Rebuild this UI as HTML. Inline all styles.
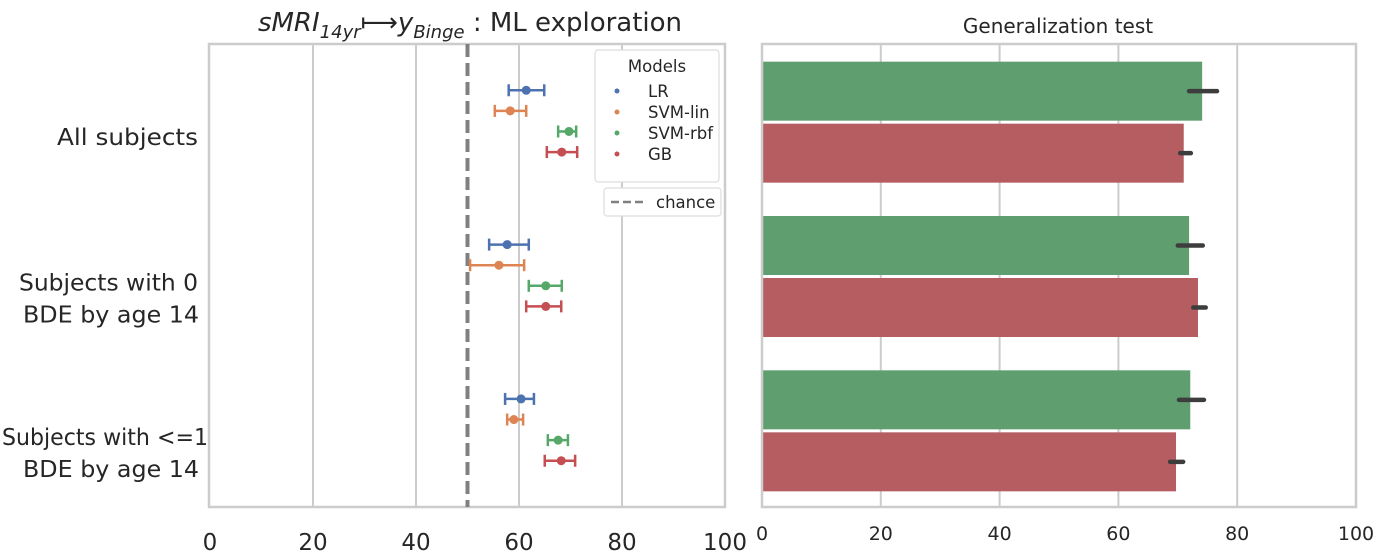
<!DOCTYPE html>
<html><head><meta charset="utf-8"><style>
body{margin:0;background:#fff;}
svg{display:block;font-family:"DejaVu Sans","Liberation Sans",sans-serif;}
</style></head><body>
<svg id="chart" width="1379" height="553" viewBox="0 0 1379 553">
<g id="left"></g>
<g id="right"></g>
</svg>
<script>
const groups = ["All subjects", "Subjects with 0|BDE by age 14", "Subjects with <=1|BDE by age 14"];
const models = ["LR", "SVM-lin", "SVM-rbf", "GB"];
const modelColors = ["#4c72b0", "#dd8452", "#55a868", "#c44e52"];
const mlMean = [[61.4, 58.3, 69.7, 68.3], [57.7, 56.1, 65.2, 65.2], [60.4, 59.0, 67.6, 68.2]];
const mlLow = [[58.0, 55.3, 67.6, 65.4], [54.2, 50.5, 61.9, 61.4], [57.3, 57.7, 65.6, 65.0]];
const mlHigh = [[64.9, 61.4, 71.1, 71.3], [61.9, 61.0, 68.3, 68.2], [62.9, 60.8, 69.5, 70.9]];
const chance = 50;
const genModels = ["SVM-rbf", "GB"];
const genMean = [[74.1, 71.0], [71.9, 73.4], [72.1, 69.7]];
const genLow = [[71.9, 70.4], [70.0, 72.6], [70.2, 68.7]];
const genHigh = [[76.6, 72.2], [74.2, 74.7], [74.4, 70.9]];
const xTicks = [0, 20, 40, 60, 80, 100];

const NS = "http://www.w3.org/2000/svg";
function mk(parent, tag, attrs, text) {
  const e = document.createElementNS(NS, tag);
  for (const k in attrs) e.setAttribute(k, attrs[k]);
  if (text !== undefined) e.textContent = text;
  parent.appendChild(e);
  return e;
}
const axTop = 44, axBottom = 507;
const catH = (axBottom - axTop) / 3;
function yCat(i) { return axTop + catH * (i + 0.5); }
const labelWidths = {"All subjects": [57, 141], "Subjects with 0": [19, 179], "BDE by age 14": [23, 176], "Subjects with <=1": [2, 206]};

// LEFT
const L = document.getElementById("left");
const lx0 = 210, lx1 = 725;
function xL(v) { return lx0 + (lx1 - lx0) * v / 100; }
xTicks.forEach(t => {
  if (t > 0 && t < 100) {
    const g = mk(L, "line", {x1: xL(t), x2: xL(t), y1: axTop, y2: axBottom, stroke: "#cccccc", "stroke-width": 2});
    
    
  }
  const tl = mk(L, "text", {x: xL(t), y: 550, "font-size": 23, fill: "#262626", "text-anchor": "middle"}, t);
  
  
});
const lb = mk(L, "rect", {x: lx0 - 1, y: axTop, width: lx1 - lx0 + 1, height: axBottom - axTop, fill: "none", stroke: "#cccccc", "stroke-width": 2.5});


const cl = mk(L, "line", {x1: xL(chance), x2: xL(chance), y1: axTop, y2: axBottom, stroke: "#808080", "stroke-width": 4, "stroke-dasharray": "13,6"});


groups.forEach((gname, gi) => {
  const lines = gname.split("|");
  const yc = yCat(gi);
  lines.forEach((ln, li) => {
    const yy = lines.length === 1 ? yc + 24 : yc + 15 + li * 32;
    const w = labelWidths[ln] || [20, 178];
    const t = mk(L, "text", {x: w[0], y: yy, "font-size": 23, fill: "#262626", textLength: w[1], lengthAdjust: "spacingAndGlyphs"}, ln);
    
    
  });
  models.forEach((m, mi) => {
    const y = yc + (mi - 1.5) * 20.6;
    const c = modelColors[mi];
    const g = mk(L, "g", {});
    
    
    mk(g, "line", {x1: xL(mlLow[gi][mi]), x2: xL(mlHigh[gi][mi]), y1: y, y2: y, stroke: c, "stroke-width": 2.5});
    mk(g, "line", {x1: xL(mlLow[gi][mi]), x2: xL(mlLow[gi][mi]), y1: y - 6, y2: y + 6, stroke: c, "stroke-width": 2.5});
    mk(g, "line", {x1: xL(mlHigh[gi][mi]), x2: xL(mlHigh[gi][mi]), y1: y - 6, y2: y + 6, stroke: c, "stroke-width": 2.5});
    mk(g, "circle", {cx: xL(mlMean[gi][mi]), cy: y, r: 4.5, fill: c});
  });
});
// legend
const lg = mk(L, "g", {});


mk(lg, "rect", {x: 595, y: 50, width: 124, height: 132, rx: 3, fill: "#fff", stroke: "#dddddd", "stroke-width": 1.2});
mk(lg, "text", {x: 657, y: 72, "font-size": 16.5, fill: "#262626", "text-anchor": "middle"}, "Models");
models.forEach((m, mi) => {
  const y = 91 + mi * 21;
  const e = mk(lg, "g", {});
  
  
  mk(e, "circle", {cx: 617, cy: y, r: 2.5, fill: modelColors[mi]});
  mk(e, "text", {x: 648, y: y + 6, "font-size": 16.5, fill: "#262626"}, m);
});
const cg = mk(L, "g", {});


mk(cg, "rect", {x: 604, y: 188, width: 117, height: 28, rx: 3, fill: "#fff", stroke: "#dddddd", "stroke-width": 1.2});
mk(cg, "line", {x1: 611, x2: 647, y1: 202, y2: 202, stroke: "#808080", "stroke-width": 2.5, "stroke-dasharray": "8,4"});
mk(cg, "text", {x: 656, y: 208, "font-size": 16.5, fill: "#262626"}, "chance");
const tt = mk(L, "text", {x: 470, y: 31, "font-size": 26, fill: "#262626", "text-anchor": "middle"});


tt.innerHTML = '<tspan font-style="italic">sMRI</tspan><tspan font-size="18" font-style="italic" dy="7">14yr</tspan><tspan dy="-7">⟼</tspan><tspan font-style="italic">y</tspan><tspan font-size="18" font-style="italic" dy="7">Binge</tspan><tspan dy="-7"> : ML exploration</tspan>';

// RIGHT
const R = document.getElementById("right");
const rx0 = 762, rx1 = 1356;
function xR(v) { return rx0 + (rx1 - rx0) * v / 100; }
xTicks.forEach(t => {
  if (t > 0 && t < 100) {
    const g = mk(R, "line", {x1: xR(t), x2: xR(t), y1: axTop, y2: axBottom, stroke: "#cccccc", "stroke-width": 2});
    
    
  }
  const tl = mk(R, "text", {x: xR(t), y: 540, "font-size": 19, fill: "#262626", "text-anchor": "middle"}, t);
  
  
});
const barColors = ["#5f9e6e", "#b55d60"];
groups.forEach((g, gi) => {
  const yc = yCat(gi) + 2;
  genModels.forEach((m, mi) => {
    const y0 = mi === 0 ? yc - 61.5 : yc + 0.5;
    const b = mk(R, "rect", {x: rx0, y: y0, width: xR(genMean[gi][mi]) - rx0, height: 59, fill: barColors[mi]});
    
    
    const e = mk(R, "line", {x1: xR(genLow[gi][mi]), x2: xR(genHigh[gi][mi]), y1: y0 + 29.5, y2: y0 + 29.5, stroke: "#3d3d3d", "stroke-width": 4.5, "stroke-linecap": "round"});
    
    
  });
});
const rb = mk(R, "rect", {x: rx0, y: axTop, width: rx1 - rx0, height: axBottom - axTop, fill: "none", stroke: "#cccccc", "stroke-width": 2.5});


const rt = mk(R, "text", {x: 1058, y: 33, "font-size": 20, fill: "#262626", "text-anchor": "middle"}, "Generalization test");


</script>
</body></html>
